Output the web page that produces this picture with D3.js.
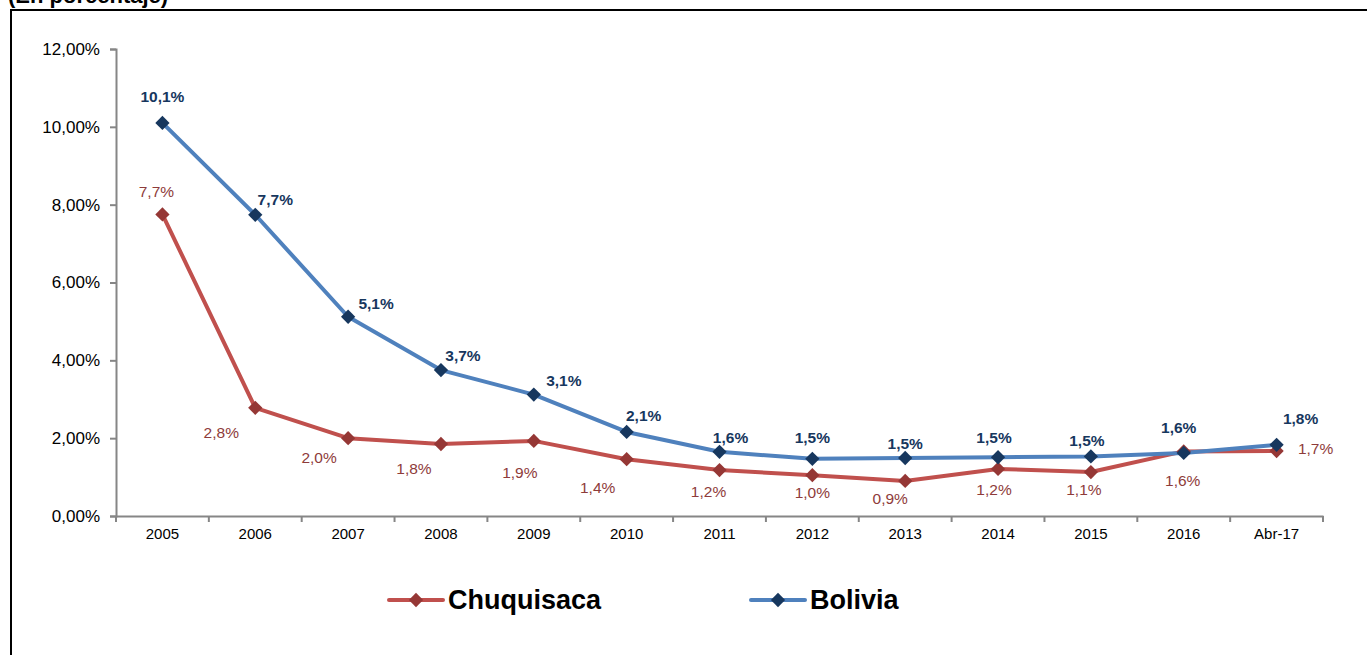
<!DOCTYPE html>
<html>
<head>
<meta charset="utf-8">
<script src="https://cdn.jsdelivr.net/npm/d3@7"></script>
<style>
  body { margin: 0; background: #fff; }
  svg { display: block; font-family: Arial, "Liberation Sans", sans-serif; }
</style>
</head>
<body>
<div id="wrapper"></div>
<script>
// datos
const categories = ["2005", "2006", "2007", "2008", "2009", "2010", "2011", "2012", "2013", "2014", "2015", "2016", "Abr-17"];
const chuquisaca = [7.75, 2.78, 2.0, 1.85, 1.93, 1.46, 1.18, 1.05, 0.9, 1.21, 1.13, 1.66, 1.67];
const bolivia = [10.1, 7.74, 5.12, 3.75, 3.12, 2.16, 1.65, 1.47, 1.49, 1.51, 1.53, 1.62, 1.83];
const chuquisacaLabels = ["7,7%", "2,8%", "2,0%", "1,8%", "1,9%", "1,4%", "1,2%", "1,0%", "0,9%", "1,2%", "1,1%", "1,6%", "1,7%"];
const boliviaLabels = ["10,1%", "7,7%", "5,1%", "3,7%", "3,1%", "2,1%", "1,6%", "1,5%", "1,5%", "1,5%", "1,5%", "1,6%", "1,8%"];
const yTicks = [0, 2, 4, 6, 8, 10, 12];

// desplazamiento manual de las etiquetas (como en Excel)
const chuqNudge = [[-6, -23], [-34, 25], [-29, 19], [-27, 25], [-14, 32], [-29, 28], [-11, 21], [0, 17], [-15, 18], [-4, 21], [-7, 18], [-1, 29], [39, -2]];
const bolNudge = [[0, -26], [20, -15], [28, -13], [22, -14], [30, -14], [17, -16], [11, -14], [0, -21], [0, -14], [-4, -20], [-4, -16], [-5, -25], [24, -26]];

const width = 1367, height = 655;
const svg = d3.select("#wrapper").append("svg")
    .attr("width", width)
    .attr("height", height);

// marco
svg.append("path")
    .attr("d", "M11,660 L11,10 L1370,10")
    .attr("fill", "none")
    .attr("stroke", "#000")
    .attr("stroke-width", 2);

svg.append("text")
    .attr("x", 8)
    .attr("y", 3)
    .attr("font-size", 22)
    .attr("font-weight", "bold")
    .text("(En porcentaje)");

const x = d3.scaleBand()
    .domain(categories)
    .range([116, 1323])
    .paddingInner(0)
    .paddingOuter(0);

const y = d3.scaleLinear()
    .domain([0, 12])
    .range([516, 49]);

const axisColor = "#868686";

// eje Y
const yAxis = svg.append("g")
    .attr("transform", "translate(116,0)")
    .call(d3.axisLeft(y).tickValues(yTicks).tickSize(6).tickPadding(10)
        .tickFormat(d => d3.format(".2f")(d).replace(".", ",") + "%"));
yAxis.select(".domain").attr("stroke", axisColor).attr("stroke-width", 2);
yAxis.selectAll(".tick line").attr("stroke", axisColor).attr("stroke-width", 2);
yAxis.selectAll("text").attr("font-size", 17).attr("fill", "#000")
    .attr("font-family", "Arial, 'Liberation Sans', sans-serif");

// eje X
const xAxis = svg.append("g")
    .attr("transform", "translate(0,516)")
    .call(d3.axisBottom(x).tickSize(0).tickPadding(12));
xAxis.select(".domain").attr("stroke", axisColor).attr("stroke-width", 2);
xAxis.selectAll("text").attr("font-size", 15).attr("fill", "#000")
    .attr("font-family", "Arial, 'Liberation Sans', sans-serif");
xAxis.selectAll(".boundary")
    .data(d3.range(categories.length + 1))
    .join("line")
    .attr("class", "boundary")
    .attr("x1", i => x.range()[0] + i * x.step())
    .attr("x2", i => x.range()[0] + i * x.step())
    .attr("y1", 0)
    .attr("y2", 6)
    .attr("stroke", axisColor)
    .attr("stroke-width", 2);

const cx = (d, i) => x(categories[i]) + x.bandwidth() / 2;
const diamond = d3.symbol().type(d3.symbolDiamond2).size(130);
const line = d3.line().x(cx).y(d => y(d));

const series = [
    { name: "Chuquisaca", values: chuquisaca, labels: chuquisacaLabels, nudge: chuqNudge,
      stroke: "#C0504D", marker: "#953735", labelColor: "#8E3B3A", weight: "normal" },
    { name: "Bolivia", values: bolivia, labels: boliviaLabels, nudge: bolNudge,
      stroke: "#4F81BD", marker: "#17375E", labelColor: "#17375E", weight: "bold" }
];

series.forEach(s => {
    svg.append("path")
        .attr("d", line(s.values))
        .attr("fill", "none")
        .attr("stroke", s.stroke)
        .attr("stroke-width", 4)
        .attr("stroke-linejoin", "round");
});

series.forEach(s => {
    svg.append("g").selectAll("path")
        .data(s.values)
        .join("path")
        .attr("d", diamond)
        .attr("transform", (d, i) => `translate(${cx(d, i)},${y(d)})`)
        .attr("fill", s.marker);
});

series.forEach(s => {
    svg.append("g").selectAll("text")
        .data(s.values)
        .join("text")
        .attr("x", (d, i) => cx(d, i) + s.nudge[i][0])
        .attr("y", (d, i) => y(d) + s.nudge[i][1])
        .attr("dy", "0.35em")
        .attr("text-anchor", "middle")
        .attr("font-size", 15.5)
        .attr("font-weight", s.weight)
        .attr("fill", s.labelColor)
        .text((d, i) => s.labels[i]);
});

// leyenda
const legendX = [389, 751];
series.forEach((s, i) => {
    const g = svg.append("g").attr("transform", `translate(${legendX[i]},600)`);
    g.append("line")
        .attr("x1", 0).attr("x2", 54)
        .attr("stroke", s.stroke)
        .attr("stroke-width", 4)
        .attr("stroke-linecap", "round");
    g.append("path")
        .attr("d", diamond)
        .attr("transform", "translate(27,0)")
        .attr("fill", s.marker);
    g.append("text")
        .attr("x", 59)
        .attr("dy", "0.35em")
        .attr("font-size", 27)
        .attr("font-weight", "bold")
        .attr("fill", "#000")
        .text(s.name);
});
</script>
</body>
</html>
